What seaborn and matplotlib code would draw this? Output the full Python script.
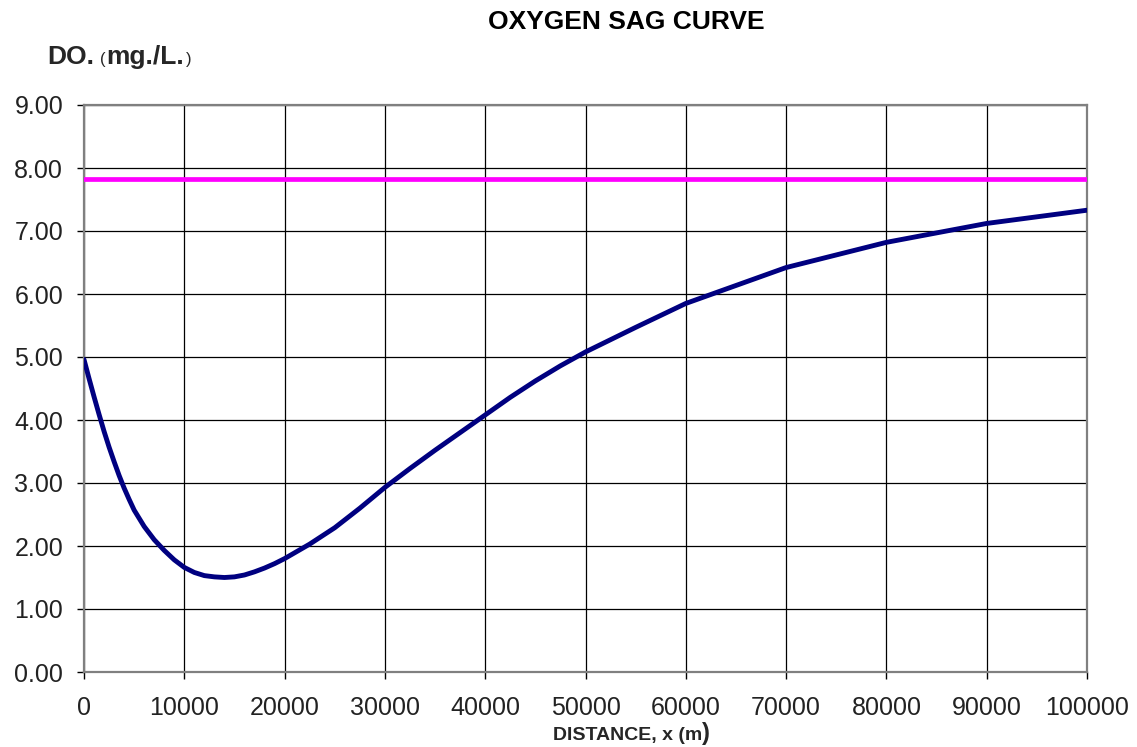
import matplotlib
matplotlib.use("Agg")
import matplotlib.pyplot as plt
import pandas as pd
import seaborn as sns

# distance downstream (m) and dissolved oxygen (mg/L)
DISTANCE = [
    0, 500, 1000, 1500, 2000, 2500, 3000, 3500, 4000, 4500, 5000,
    6000, 7000, 8000, 9000, 10000,
    11000, 12000, 13000, 14000, 15000, 16000, 17000, 18000, 19000, 20000,
    22500, 25000, 27500, 30000, 32500, 35000, 37500, 40000, 42500, 45000,
    47500, 50000, 55000, 60000, 70000, 80000, 90000, 100000,
]
DO_VALUES = [
    4.96, 4.66, 4.37, 4.09, 3.82, 3.57, 3.34, 3.12, 2.92, 2.74, 2.57,
    2.31, 2.10, 1.93, 1.78, 1.66,
    1.58, 1.53, 1.51, 1.50, 1.51, 1.54, 1.59, 1.65, 1.72, 1.80,
    2.03, 2.29, 2.60, 2.93, 3.23, 3.52, 3.80, 4.08, 4.36, 4.62,
    4.86, 5.08, 5.47, 5.85, 6.42, 6.82, 7.12, 7.33,
]
DO_SAT = 7.83

X_TICKS = list(range(0, 100001, 10000))
Y_TICKS = [0, 1, 2, 3, 4, 5, 6, 7, 8, 9]

sns.set_theme(style="white")
plt.rcParams["font.family"] = ["Liberation Sans", "DejaVu Sans"]

df = pd.DataFrame({"distance": DISTANCE, "do": DO_VALUES})
sat = pd.DataFrame({"distance": [DISTANCE[0], DISTANCE[-1]], "do": [DO_SAT, DO_SAT]})

W, H = 1137, 747
fig = plt.figure(figsize=(W / 100, H / 100), dpi=100)
ax = fig.add_axes([84 / W, 1 - 672 / H, (1087 - 84) / W, (672 - 105) / H])

sns.lineplot(data=sat, x="distance", y="do", color="#FF00FF", linewidth=3.4, ax=ax, zorder=3)
sns.lineplot(data=df, x="distance", y="do", color="#000080", linewidth=3.5, ax=ax, zorder=4)

ax.set_xlim(0, 100000)
ax.set_ylim(0, 9)
ax.set_xticks(X_TICKS)
ax.set_xticklabels([str(v) for v in X_TICKS])
ax.set_yticks(Y_TICKS)
ax.set_yticklabels([f"{v:.2f}" for v in Y_TICKS])
ax.grid(True, color="black", linewidth=0.9)
ax.set_axisbelow(True)
ax.set_xlabel("")
ax.set_ylabel("")
for s in ax.spines.values():
    s.set_color("#808080")
    s.set_linewidth(1.6)
ax.tick_params(axis="both", which="major", direction="out", length=5, width=1,
               color="black", labelsize=18, labelcolor="#222222")
ax.tick_params(axis="y", pad=10, left=True)
ax.tick_params(axis="x", pad=12, bottom=True)

# title and axis captions, placed like the original chart
fig.text(626 / W, 1 - 22 / H, "OXYGEN SAG CURVE", ha="center", va="center",
         fontsize=19, fontweight="bold", color="black")
fig.text(47 / W, 1 - 64 / H, "DO.", ha="left", va="baseline",
         fontsize=19, fontweight="bold")
fig.text(100 / W, 1 - 64 / H, "(", ha="left", va="baseline", fontsize=12)
fig.text(106 / W, 1 - 64 / H, "mg./L.", ha="left", va="baseline",
         fontsize=19, fontweight="bold")
fig.text(186 / W, 1 - 64 / H, ")", ha="left", va="baseline", fontsize=12)
fig.text(702 / W, 1 - 740 / H, "DISTANCE, x (m", ha="right", va="baseline",
         fontsize=14, fontweight="bold")
fig.text(702 / W, 1 - 740 / H, ")", ha="left", va="baseline",
         fontsize=17, fontweight="bold")

fig.savefig("out.png", dpi=100, facecolor="white")
